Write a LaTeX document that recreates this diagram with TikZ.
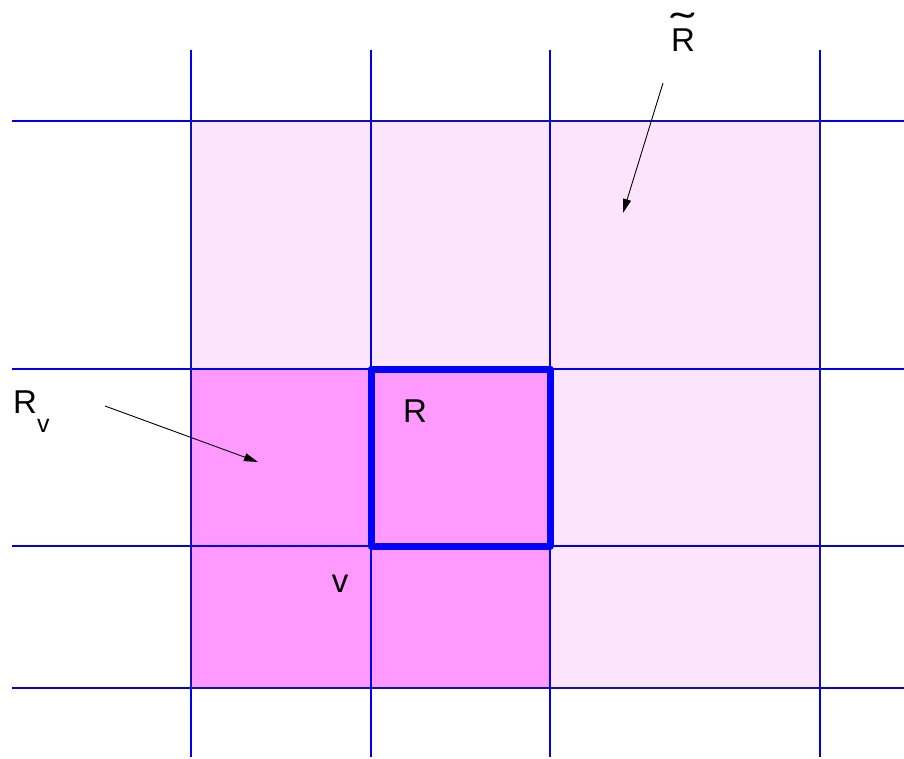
\documentclass[tikz,border=0pt]{standalone}
\usepackage{fontspec}
\setmainfont{Liberation Sans}
\usetikzlibrary{arrows.meta}
\definecolor{lightpink}{HTML}{FCE4FC}
\definecolor{darkpink}{HTML}{FF99FF}
\definecolor{gridblue}{HTML}{0000F0}
\definecolor{borderblue}{HTML}{1010B8}
\newcommand{\widetildeR}{\setbox0\hbox{R}\rlap{\hbox to \wd0{\hss\raisebox{10pt}{\scalebox{2.1}[1.2]{\char"02DC}}\hss}}\box0}
\tikzset{
  gridline/.style={draw=gridblue, line width=1.2pt},
  border/.style={draw=borderblue, line width=2.8pt},
  rbox/.style={draw=blue, line width=7pt, line join=round},
  pointer/.style={draw=black, line width=0.9pt, -{Triangle[length=14pt,width=8pt]}},
  lbl/.style={font=\fontsize{33}{36}\selectfont, inner sep=0pt, anchor=base}
}
\begin{document}
\begin{tikzpicture}[x=1pt,y=-1pt]
\useasboundingbox (0,0) rectangle (904,759);
% fills
\fill[lightpink] (191,121) rectangle (820,688);
\fill[darkpink] (191,369) rectangle (550,688);
% grid lines
\foreach \x in {191,371,550,820} \draw[gridline] (\x,50) -- (\x,757);
\foreach \y in {121,369,546,688} \draw[gridline] (12,\y) -- (904,\y);
% outer border
\draw[border] (191,121) rectangle (820,688);
% thick R box
\draw[rbox] (371,369) rectangle (550,546);
% labels
\node[lbl] (rt) at (683,52) {\widetildeR};
\node[lbl, anchor=base west] (rv) at (13,413) {R};
\node[font=\fontsize{25}{28}\selectfont, inner sep=0pt, anchor=base west] (rvsub) at (37,432) {v};
\node[lbl] (r) at (415,422) {R};
\node[lbl] (v) at (340,592) {v};
% arrows
\coordinate (a1s) at (663,83);
\coordinate (a1e) at (623,213);
\coordinate (a2s) at (105,406);
\coordinate (a2e) at (258,462);
\draw[pointer] (a1s) -- (a1e);
\draw[pointer] (a2s) -- (a2e);
\end{tikzpicture}
\end{document}
